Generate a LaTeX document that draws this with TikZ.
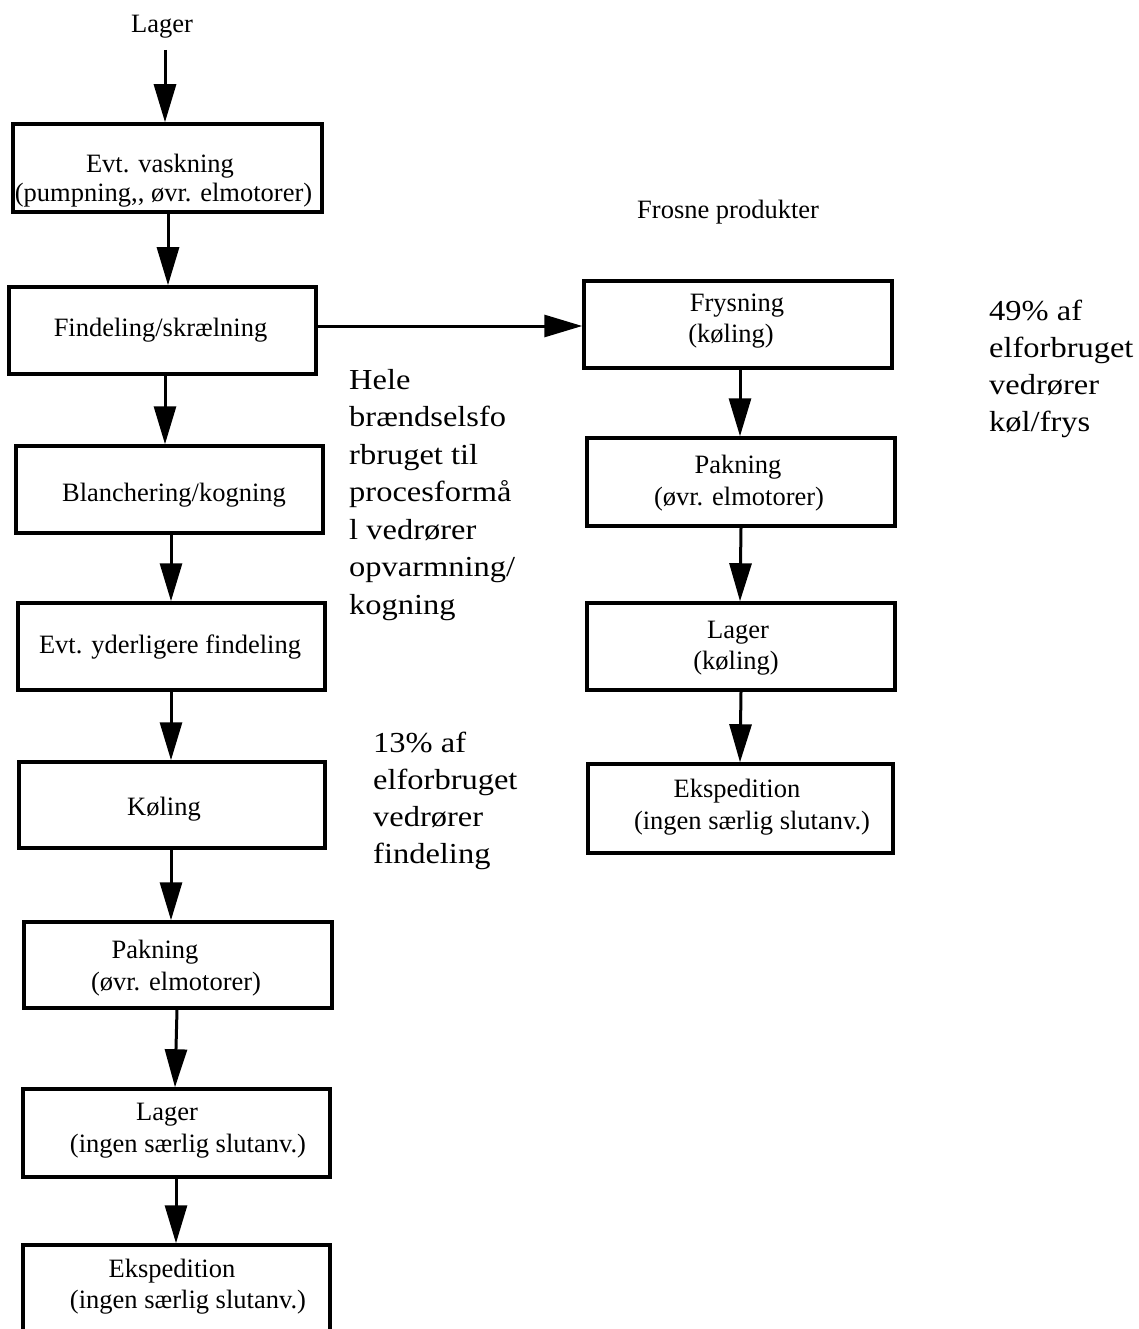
\documentclass[tikz,border=0pt]{standalone}
\usepackage{fontspec}
\setmainfont{Liberation Serif}
\newfontfamily\notefont[FakeStretch=1.12]{Liberation Serif}
\usetikzlibrary{arrows.meta}

\begin{document}
\begin{tikzpicture}[x=1pt,y=-1pt,
  box/.style={draw, line width=3.5pt, inner sep=0pt},
  lbl/.style={inner sep=0pt, anchor=base, font=\fontsize{26.5}{30}\selectfont},
  note/.style={inner sep=0pt, anchor=base west, font=\notefont\fontsize{29}{37}\selectfont},
  arr/.style={line width=3pt, -{Triangle[length=38pt,width=22pt]}}]
\useasboundingbox (0,0) rectangle (1138,1329);

% ---- main line (left column) ----
\node[box, minimum width=309pt, minimum height=88pt] (b1) at (167.5,168) {};
\node[box, minimum width=307pt, minimum height=87pt] (b2) at (162.5,330.5) {};
\node[box, minimum width=307pt, minimum height=87pt] (b3) at (169.5,489.5) {};
\node[box, minimum width=307pt, minimum height=87pt] (b4) at (171.5,646.5) {};
\node[box, minimum width=306pt, minimum height=86pt] (b5) at (172,805) {};
\node[box, minimum width=308pt, minimum height=86pt] (b6) at (178,965) {};
\node[box, minimum width=307pt, minimum height=88pt] (b7) at (176.5,1133) {};
\node[box, minimum width=307pt, minimum height=88pt] (b8) at (176.5,1289) {};

\node[lbl] (src) at (162,33) {Lager};
\node[lbl] (t1a) at (160,173) {Evt. vaskning};
\node[lbl] (t1b) at (163.5,202) {(pumpning,\kern0pt, øvr. elmotorer)};
\node[lbl] (t2) at (160.5,336) {Findeling/skrælning};
\node[lbl] (t3) at (174,501) {Blanchering/kogning};
\node[lbl] (t4) at (170,653) {Evt. yderligere findeling};
\node[lbl] (t5) at (164,815) {Køling};
\node[lbl] (t6a) at (155,958) {Pakning};
\node[lbl] (t6b) at (176,990) {(øvr. elmotorer)};
\node[lbl] (t7a) at (167,1120) {Lager};
\node[lbl] (t7b) at (188,1152) {(ingen særlig slutanv.)};
\node[lbl] (t8a) at (172,1277) {Ekspedition};
\node[lbl] (t8b) at (188,1308) {(ingen særlig slutanv.)};

% ---- frozen products (right column) ----
\node[lbl, anchor=base west] (frosne) at (637,219) {Frosne produkter};
\node[box, minimum width=308pt, minimum height=87pt] (f1) at (738,324.5) {};
\node[box, minimum width=308pt, minimum height=88pt] (f2) at (741,482) {};
\node[box, minimum width=308pt, minimum height=87pt] (f3) at (741,646.5) {};
\node[box, minimum width=305pt, minimum height=89pt] (f4) at (740.5,808.5) {};

\node[lbl] (u1a) at (737,312) {Frysning};
\node[lbl] (u1b) at (731,342) {(køling)};
\node[lbl] (u2a) at (738,473) {Pakning};
\node[lbl] (u2b) at (739,505) {(øvr. elmotorer)};
\node[lbl] (u3a) at (738,638) {Lager};
\node[lbl] (u3b) at (736,669) {(køling)};
\node[lbl] (u4a) at (737,797) {Ekspedition};
\node[lbl] (u4b) at (752,829) {(ingen særlig slutanv.)};

% ---- notes ----
\foreach \t [count=\i from 0] in {Hele, brændselsfo, rbruget til, procesformå, l vedrører, opvarmning/, kogning}
  \node[note] (hele\i) at (349,{389+37.5*\i}) {\t};
\foreach \t [count=\i from 0] in {13\% af, elforbruget, vedrører, findeling}
  \node[note] (el\i) at (373,{752+37.3*\i}) {\t};
\foreach \t [count=\i from 0] in {49\% af, elforbruget, vedrører, køl/frys}
  \node[note] (kf\i) at (989,{320+37*\i}) {\t};

% ---- connectors ----
\coordinate (s0) at (165,50);
\coordinate (xa) at (165,0);
\coordinate (xb) at (168,0);
\coordinate (xc) at (171,0);
\coordinate (xd) at (177,0);
\coordinate (xe) at (175,0);
\coordinate (xf) at (176,0);
\coordinate (xg) at (740,0);
\coordinate (xh) at (741,0);
\coordinate (ya) at (0,326);

\draw[arr] (s0) -- (b1.north -| s0);
\draw[arr] (b1.south -| xb) -- (b2.north -| xb);
\draw[arr] (b2.south -| xa) -- (b3.north -| xa);
\draw[arr] (b3.south -| xc) -- (b4.north -| xc);
\draw[arr] (b4.south -| xc) -- (b5.north -| xc);
\draw[arr] (b5.south -| xc) -- (b6.north -| xc);
\draw[arr] (b6.south -| xd) -- (b7.north -| xe);
\draw[arr] (b7.south -| xf) -- (b8.north -| xf);

\draw[arr] (b2.east |- ya) -- (f1.west |- ya);
\draw[arr] (f1.south -| xg) -- (f2.north -| xg);
\draw[arr] (f2.south -| xh) -- (f3.north -| xg);
\draw[arr] (f3.south -| xh) -- (f4.north -| xg);
\end{tikzpicture}
\end{document}
